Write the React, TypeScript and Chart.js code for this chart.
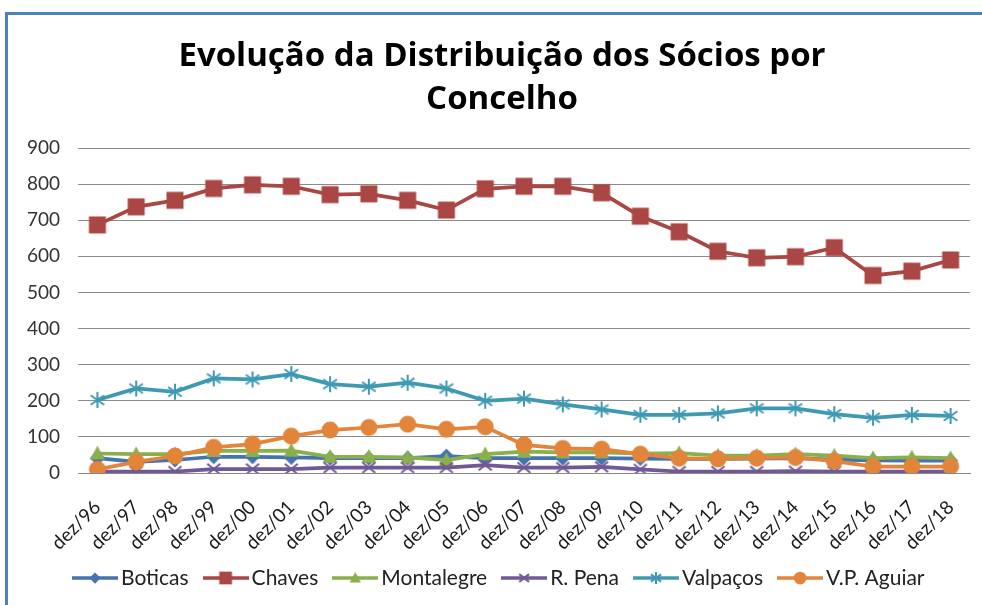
import React, { useEffect, useRef } from "react";
import { Chart, registerables } from "chart.js";

Chart.register(...registerables);

const categories = [
  "dez/96", "dez/97", "dez/98", "dez/99", "dez/00", "dez/01", "dez/02", "dez/03",
  "dez/04", "dez/05", "dez/06", "dez/07", "dez/08", "dez/09", "dez/10", "dez/11",
  "dez/12", "dez/13", "dez/14", "dez/15", "dez/16", "dez/17", "dez/18",
];

const boticas = [41, 31, 36, 45, 45, 43, 41, 41, 41, 47, 41, 41, 41, 41, 40, 39, 39, 40, 41, 37, 35, 34, 34];
const chaves = [687, 737, 755, 788, 798, 794, 771, 773, 755, 728, 787, 794, 794, 776, 711, 668, 614, 596, 599, 624, 547, 559, 590];
const montalegre = [54, 52, 52, 61, 61, 62, 45, 45, 43, 36, 52, 59, 57, 57, 54, 55, 48, 48, 52, 48, 41, 43, 41];
const rPena = [4, 4, 4, 11, 11, 11, 15, 15, 15, 15, 22, 15, 15, 17, 10, 4, 4, 4, 5, 4, 4, 4, 4];
const valpacos = [202, 234, 225, 262, 259, 274, 246, 239, 250, 234, 200, 206, 190, 176, 161, 161, 165, 179, 179, 163, 153, 161, 158];
const vpAguiar = [10, 31, 47, 71, 80, 102, 119, 126, 135, 121, 128, 78, 68, 66, 52, 41, 39, 41, 43, 33, 18, 18, 18];

const seriesNames = ["Boticas", "Chaves", "Montalegre", "R. Pena", "Valpaços", "V.P. Aguiar"];
const seriesValues = [boticas, chaves, montalegre, rPena, valpacos, vpAguiar];
const seriesColors = ["#4573B1", "#AA4643", "#8AB04C", "#715896", "#3E9AB3", "#E2853A"];
const seriesMarkers = ["diamond", "square", "triangle", "x", "star", "circle"];

const titleLines = ["Evolução da Distribuição dos Sócios por", "Concelho"];
const yMin = 0;
const yMax = 900;
const yStep = 100;

function drawMarker(ctx: CanvasRenderingContext2D, kind: string, color: string, cx: number, cy: number, s: number) {
  ctx.fillStyle = color;
  ctx.strokeStyle = color;
  ctx.lineCap = "butt";
  ctx.beginPath();
  if (kind === "diamond") {
    const r = 7.5 * s;
    ctx.moveTo(cx, cy - r);
    ctx.lineTo(cx + r, cy);
    ctx.lineTo(cx, cy + r);
    ctx.lineTo(cx - r, cy);
    ctx.closePath();
    ctx.fill();
  } else if (kind === "square") {
    const h = 8.5 * s;
    ctx.rect(cx - h, cy - h, 2 * h, 2 * h);
    ctx.fill();
  } else if (kind === "triangle") {
    const h = 7.5 * s;
    ctx.moveTo(cx, cy - h * 1.05);
    ctx.lineTo(cx + h, cy + h * 0.8);
    ctx.lineTo(cx - h, cy + h * 0.8);
    ctx.closePath();
    ctx.fill();
  } else if (kind === "x") {
    const r = 6.5 * s;
    ctx.lineWidth = 2;
    ctx.moveTo(cx - r, cy - r * 0.8);
    ctx.lineTo(cx + r, cy + r * 0.8);
    ctx.moveTo(cx + r, cy - r * 0.8);
    ctx.lineTo(cx - r, cy + r * 0.8);
    ctx.stroke();
  } else if (kind === "star") {
    const r = 8 * s;
    ctx.lineWidth = 2;
    ctx.moveTo(cx, cy - r);
    ctx.lineTo(cx, cy + r);
    ctx.moveTo(cx - r * 0.85, cy - r * 0.6);
    ctx.lineTo(cx + r * 0.85, cy + r * 0.6);
    ctx.moveTo(cx + r * 0.85, cy - r * 0.6);
    ctx.lineTo(cx - r * 0.85, cy + r * 0.6);
    ctx.stroke();
  } else {
    const r = 8.5 * s;
    ctx.arc(cx, cy, r, 0, Math.PI * 2);
    ctx.fill();
  }
}

function makeMarker(kind: string, color: string) {
  const c = document.createElement("canvas");
  c.width = 22;
  c.height = 22;
  const ctx = c.getContext("2d")!;
  drawMarker(ctx, kind, color, 11, 11, 1);
  return c;
}

function makeLegendIcon(kind: string, color: string) {
  const c = document.createElement("canvas");
  c.width = 46;
  c.height = 20;
  const ctx = c.getContext("2d")!;
  ctx.strokeStyle = color;
  ctx.lineWidth = 3.5;
  ctx.beginPath();
  ctx.moveTo(0, 10);
  ctx.lineTo(46, 10);
  ctx.stroke();
  drawMarker(ctx, kind, color, 23, 10, 0.75);
  return c;
}

// lets the axis labels overflow their (tight) layout boxes instead of being clipped
const unclipLabels = {
  id: "unclipLabels",
  afterLayout(chart: any) {
    const y = chart.scales.y;
    const x = chart.scales.x;
    if (y) y.left = 0;
    if (x) x.bottom = chart.height;
  },
};

export default function App() {
  const ref = useRef<HTMLCanvasElement>(null);

  useEffect(() => {
    if (!ref.current) return;
    const markers = seriesNames.map((_, i) => makeMarker(seriesMarkers[i], seriesColors[i]));
    const legendIcons = seriesNames.map((_, i) => makeLegendIcon(seriesMarkers[i], seriesColors[i]));

    const datasets = seriesNames.map((name, i) => ({
      label: name,
      data: seriesValues[i],
      borderColor: seriesColors[i],
      backgroundColor: seriesColors[i],
      borderWidth: 3.75,
      pointStyle: markers[i] as any,
      pointRadius: 8,
      pointHoverRadius: 8,
      tension: 0,
      order: seriesNames.length - i,
    }));

    const chart = new Chart(ref.current, {
      type: "line",
      data: { labels: categories, datasets },
      plugins: [unclipLabels],
      options: {
        animation: false,
        responsive: false,
        devicePixelRatio: 1,
        layout: { padding: { left: 34, right: 34, top: 12, bottom: 6.5 } },
        plugins: {
          tooltip: { enabled: false },
          title: {
            display: true,
            text: titleLines,
            color: "#000000",
            font: { family: "Open Sans", size: 33, weight: "bold", lineHeight: 1.3 },
            padding: { top: 23, bottom: 27.2 },
          },
          legend: {
            display: true,
            position: "bottom",
            labels: {
              usePointStyle: true,
              pointStyleWidth: 31,
              boxHeight: 21,
              padding: 21.5,
              color: "#222222",
              font: { family: "Lato", size: 21 },
              generateLabels: () =>
                seriesNames.map((name, i) => ({
                  text: name,
                  pointStyle: legendIcons[i] as any,
                  fillStyle: seriesColors[i],
                  strokeStyle: seriesColors[i],
                  lineWidth: 0,
                  hidden: false,
                  datasetIndex: i,
                  fontColor: "#222222",
                })),
            },
          },
        },
        scales: {
          x: {
            type: "category",
            offset: true,
            grid: { display: false },
            border: { display: true, color: "#888888", width: 1 },
            ticks: {
              autoSkip: false,
              maxRotation: 45,
              minRotation: 45,
              padding: 15,
              color: "#1a1a1a",
              font: { family: "Lato", size: 19 },
            },
            afterFit: (s: any) => {
              s.height = 73;
            },
          },
          y: {
            min: yMin,
            max: yMax,
            grid: { color: "#8c8c8c", drawTicks: false, lineWidth: 1 },
            border: { display: false },
            ticks: {
              stepSize: yStep,
              padding: 18,
              color: "#333333",
              font: { family: "Lato", size: 19 },
            },
            afterFit: (s: any) => {
              s.width = 44;
            },
          },
        },
      },
    });
    return () => chart.destroy();
  }, []);

  return (
    <div style={{ position: "fixed", left: 0, top: 0, width: 982, height: 605, overflow: "hidden", background: "#ffffff" }}>
      <div
        style={{
          position: "absolute",
          left: 5,
          top: 12,
          width: 1100,
          height: 700,
          borderTop: "3px solid #4F81BD",
          borderLeft: "3px solid #4F81BD",
        }}
      />
      <canvas ref={ref} width={1004} height={605} style={{ position: "absolute", left: 0, top: 0, width: 1004, height: 605 }} />
    </div>
  );
}
